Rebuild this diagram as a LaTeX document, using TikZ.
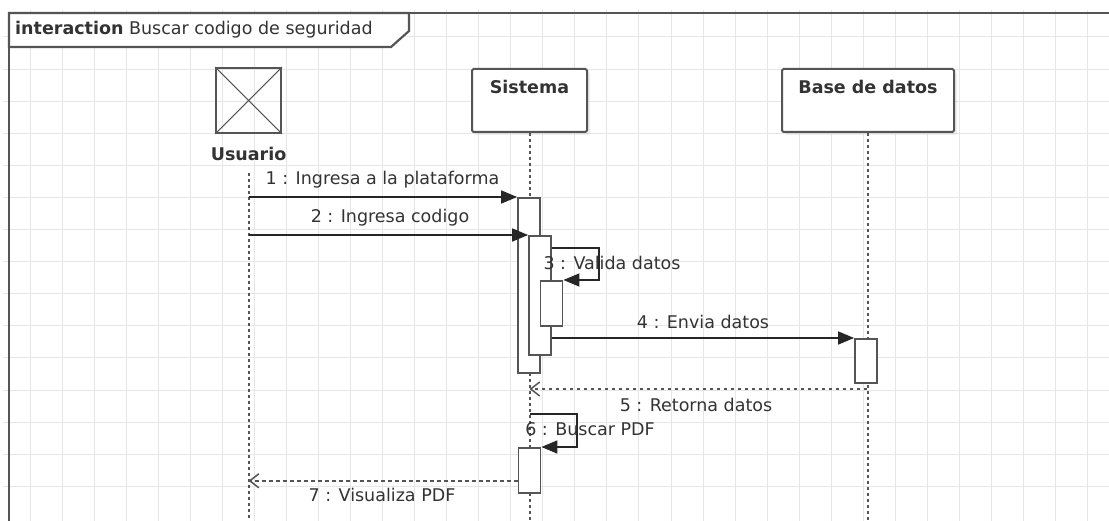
\documentclass[tikz,border=0pt]{standalone}
\usepackage{fontspec}
\setmainfont{DejaVu Sans}
\usetikzlibrary{arrows.meta, positioning, calc, shadows}
\definecolor{ink}{HTML}{333333}
\definecolor{edge}{HTML}{555555}
\definecolor{gridc}{HTML}{E6E6E6}

\begin{document}
\begin{tikzpicture}[x=1pt, y=-1pt, font=\fontsize{17.5}{21}\selectfont, text=ink,
    head/.style={draw=edge, line width=2pt, rounded corners=1.5pt, fill=white, minimum height=63pt,
      drop shadow={opacity=0.12, shadow xshift=3pt, shadow yshift=-3pt}},
    act/.style={draw=edge, line width=1.8pt, fill=white, minimum width=22pt, inner sep=0pt, anchor=north},
    life/.style={draw=edge, line width=2pt, dash pattern=on 3pt off 3pt},
    msg/.style={draw=black!85, line width=1.6pt, -{Triangle[length=16pt, width=13pt]}},
    ret/.style={draw=edge, line width=2pt, dash pattern=on 3.5pt off 3.5pt,
      -{Straight Barb[length=9pt, width=14pt, line width=1.5pt]}},
    lbl/.style={inner sep=0pt}]
    \fill[white] (0,0) rectangle (1109,521);
    \useasboundingbox (0,0) rectangle (1109,521);
    % grid
    \foreach \i in {0,...,33}
      \draw[gridc, line width=1pt] ({30+32.05*\i},10) -- ({30+32.05*\i},521);
    \foreach \j in {0,...,14}
      \draw[gridc, line width=1pt] (3,{37+32.1*\j}) -- (1109,{37+32.1*\j});
    % frame
    \draw[edge, line width=2.2pt, fill=white] (9,13) -- (409,13) -- (409,31) -- (391,47) -- (9,47) -- cycle;
    \draw[edge, line width=2.2pt] (9,521) -- (9,13) -- (1109,13);
    \node[lbl, anchor=west] (title) at (15,30) {\textbf{interaction} Buscar codigo de seguridad};
    % lifeline heads
    \node[head, minimum width=115pt] (sis) at (529.5,100.5) {};
    \node[lbl, below=12pt of sis.north] {\textbf{Sistema}};
    \node[head, minimum width=172pt, right=193pt of sis] (db) {};
    \node[lbl, below=12pt of db.north] {\textbf{Base de datos}};
    \node[draw=edge, line width=1.8pt, minimum size=65pt, inner sep=0pt, left=189pt of sis] (usr) {};
    \draw[edge, line width=1.1pt] (usr.north west) -- (usr.south east) (usr.north east) -- (usr.south west);
    \node[lbl, below=13pt of usr] (usrname) {\textbf{Usuario}};
    \coordinate (bot) at (0,521);
    \draw[life] ([yshift=-12pt]usrname.south) -- (usr |- bot);
    \draw[life] (sis.south) -- (sis |- bot);
    \draw[life] (db.south) -- (db |- bot);
    % activations
    \node[act, minimum height=175pt] (a1) at (529,197) {};
    \node[act, minimum height=119pt] (a2) at (540,235) {};
    \node[act, minimum height=45pt] (a3) at (551.5,280) {};
    \node[act, minimum height=44pt] (a4) at (866,338) {};
    \node[act, minimum height=45pt] (a6) at (529.5,447) {};
    % messages
    \draw[msg] (usr |- a1.north) -- (a1.north west);
    \node[lbl] (l1) at (382.5,180) {1 : Ingresa a la plataforma};
    \draw[msg] (usr |- a2.north) -- (a2.north west);
    \node[lbl] (l2) at (390,218) {2 : Ingresa codigo};
    \draw[msg] ([yshift=-13pt]a2.north east) -- ++(47,0) |- (a3.north east);
    \node[lbl] (l3) at (612,263) {3 : Valida datos};
    \draw[msg] (a2.east |- a4.north) -- (a4.north west);
    \node[lbl] (l4) at (703,322) {4 : Envia datos};
    \coordinate (m5) at (867,389);
    \draw[ret] (m5) -- (sis |- m5);
    \node[lbl] (l5) at (696,405) {5 : Retorna datos};
    \coordinate (m6) at (530,414);
    \draw[msg] (m6) -- ++(47,0) |- (a6.north east);
    \node[lbl] (l6) at (590,429) {6 : Buscar PDF};
    \coordinate (m7) at ([yshift=13pt]a6.south west);
    \draw[ret] (m7) -- (usr |- m7);
    \node[lbl] (l7) at (382,495) {7 : Visualiza PDF};
  \end{tikzpicture}
\end{document}
